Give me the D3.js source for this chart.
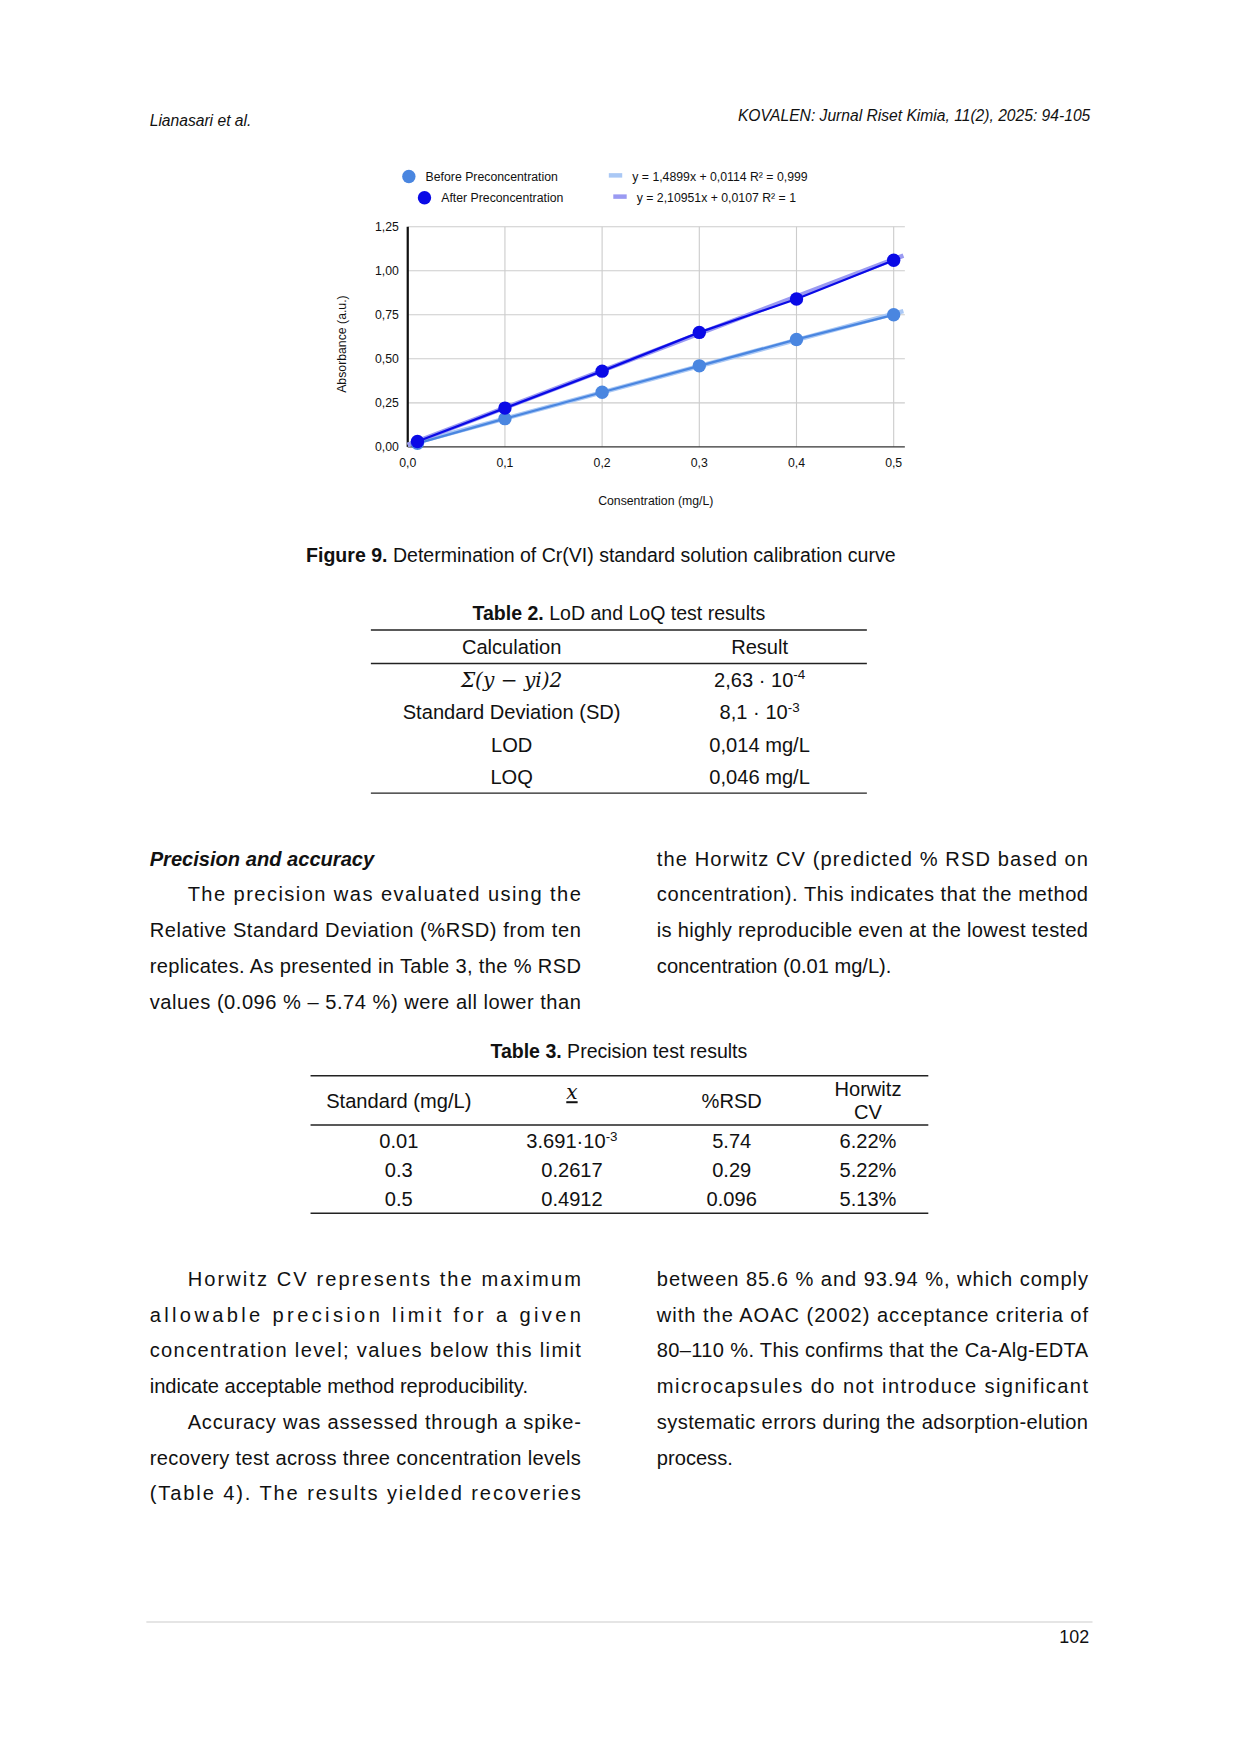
<!DOCTYPE html><html><head><meta charset="utf-8">
<script src="https://cdn.jsdelivr.net/npm/d3@7"></script>
<style>body{margin:0;background:#fff}svg{font-family:"Liberation Sans",Arial,sans-serif}</style></head><body>
<svg id="s" width="1240" height="1754"></svg>
<script>
const concentrations=[0.01,0.1,0.2,0.3,0.4,0.5];
const beforeValues=[0.02,0.16,0.31,0.46,0.61,0.75];
const afterValues=[0.03,0.22,0.43,0.65,0.84,1.06];
const fitBefore={m:1.4899,b:0.0114}, fitAfter={m:2.10951,b:0.0107};
const xTicks=[0,0.1,0.2,0.3,0.4,0.5], yTicks=[0,0.25,0.5,0.75,1.0,1.25];
const svg=d3.select("#s").append("g").attr("transform","scale(1.1171)");
const fmt=d=>d3.format(".1f")(d).replace(".",","), fmt2=d=>d3.format(".2f")(d).replace(".",",");
const x=d3.scaleLinear().domain([0,0.5]).range([365,800]);
const y=d3.scaleLinear().domain([0,1.25]).range([400,203]);
const T=(t,X,Y,o={})=>{const e=svg.append("text").attr("x",X).attr("y",Y).text(t).attr("font-size",o.s||18).attr("fill","#111");if(o.a)e.attr("text-anchor",o.a);if(o.w)e.attr("font-weight",o.w);if(o.i)e.attr("font-style","italic");if(o.L)e.attr("textLength",o.L).attr("lengthAdjust","spacing");return e;};
T("Lianasari et al.",134,113,{s:14,i:1});
T("KOVALEN: Jurnal Riset Kimia, 11(2), 2025: 94-105",976,108,{s:14,i:1,a:"end"});
svg.append("g").selectAll("line").data(xTicks.slice(1)).join("line").attr("x1",x).attr("x2",x).attr("y1",203).attr("y2",400).attr("stroke","#ccc");
svg.append("g").selectAll("line").data(yTicks.slice(1)).join("line").attr("x1",365).attr("x2",810).attr("y1",y).attr("y2",y).attr("stroke","#ccc");
svg.append("line").attr("x1",365).attr("x2",810).attr("y1",400).attr("y2",400).attr("stroke","#333");
svg.append("line").attr("x1",365).attr("x2",365).attr("y1",203).attr("y2",400).attr("stroke","#111").attr("stroke-width",2);
yTicks.forEach(t=>T(fmt2(t),357,y(t)+4,{s:11,a:"end"}));
xTicks.forEach(t=>T(fmt(t),x(t),418,{s:11,a:"middle"}));
T("Consentration (mg/L)",587,452,{s:11,a:"middle"});
T("Absorbance (a.u.)",0,0,{s:11,a:"middle"}).attr("transform","translate(310,308) rotate(-90)");
const line=d3.line().x(d=>x(d[0])).y(d=>y(d[1]));
[[fitBefore,"#aac8f5"],[fitAfter,"#9a9af2"]].forEach(([f,c])=>svg.append("path").attr("d",line([0,0.51].map(v=>[v,f.m*v+f.b]))).attr("stroke",c).attr("stroke-width",4).attr("fill","none"));
[[beforeValues,"#4a86e0"],[afterValues,"#0a0ae6"]].forEach(([v,c])=>{const pts=concentrations.map((cc,i)=>[cc,v[i]]);
svg.append("path").attr("d",line(pts)).attr("stroke",c).attr("stroke-width",2).attr("fill","none");
svg.append("g").selectAll("circle").data(pts).join("circle").attr("cx",d=>x(d[0])).attr("cy",d=>y(d[1])).attr("r",6).attr("fill",c);});
svg.append("circle").attr("cx",366).attr("cy",158).attr("r",6).attr("fill","#4a86e0");
svg.append("circle").attr("cx",380).attr("cy",177).attr("r",6).attr("fill","#0a0ae6");
T("Before Preconcentration",381,162,{s:11});T("After Preconcentration",395,181,{s:11});
svg.append("rect").attr("x",545).attr("y",155).attr("width",12).attr("height",4).attr("fill","#aac8f5");
svg.append("rect").attr("x",549).attr("y",174).attr("width",12).attr("height",4).attr("fill","#9a9af2");
T("y = 1,4899x + 0,0114 R² = 0,999",566,162,{s:11});T("y = 2,10951x + 0,0107 R² = 1",570,181,{s:11});
const cap=T("",274,503,{s:17.5});cap.append("tspan").attr("font-weight","bold").text("Figure 9.");cap.append("tspan").text(" Determination of Cr(VI) standard solution calibration curve");
const t2=T("",554,555,{s:17.5,a:"middle"});t2.append("tspan").attr("font-weight","bold").text("Table 2.");t2.append("tspan").text(" LoD and LoQ test results");
[[332,564,776],[332,594,776],[332,710,776]].forEach(([a,b,c])=>svg.append("line").attr("x1",a).attr("x2",c).attr("y1",b).attr("y2",b).attr("stroke","#222").attr("stroke-width",1.3));
T("Calculation",458,585,{a:"middle"});T("Result",680,585,{a:"middle"});
T("Σ(y − yi)2",458,615,{a:"middle",i:1}).attr("font-family","DejaVu Serif");
const sup=(X,Y,base,e)=>{const t=T("",X,Y,{a:"middle"});t.append("tspan").text(base);t.append("tspan").attr("font-size",12).attr("dy",-7).text(e);};
sup(680,615,"2,63 · 10","-4");T("Standard Deviation (SD)",458,644,{a:"middle"});sup(680,644,"8,1 · 10","-3");
T("LOD",458,673,{a:"middle"});T("0,014 mg/L",680,673,{a:"middle"});T("LOQ",458,702,{a:"middle"});T("0,046 mg/L",680,702,{a:"middle"});
T("Precision and accuracy",134,775,{w:"bold",i:1});
const L=(s,X,Y,w)=>T(s,X,Y,w?{L:w}:{});
[["The  precision  was  evaluated  using  the",168,807,352],["Relative Standard Deviation (%RSD) from ten",134,839,386],["replicates. As presented in Table 3, the % RSD",134,871,386],["values (0.096 % – 5.74 %) were all lower than",134,903,386]].forEach(a=>L(...a));
[["the Horwitz CV (predicted % RSD based on",588,775,386],["concentration). This indicates that the method",588,807,386],["is highly reproducible even at the lowest tested",588,839,386],["concentration (0.01 mg/L).",588,871]].forEach(a=>L(...a));
const t3=T("",554,947,{s:17.5,a:"middle"});t3.append("tspan").attr("font-weight","bold").text("Table 3.");t3.append("tspan").text(" Precision test results");
[[963],[1007],[1086]].forEach(([b])=>svg.append("line").attr("x1",278).attr("x2",831).attr("y1",b).attr("y2",b).attr("stroke","#222").attr("stroke-width",1.3));
T("Standard (mg/L)",357,992,{a:"middle"});T("x",512,984,{a:"middle",i:1}).attr("font-family","DejaVu Serif").attr("text-decoration","underline");
T("%RSD",655,992,{a:"middle"});T("Horwitz",777,981,{a:"middle"});T("CV",777,1002,{a:"middle"});
const std=["0.01","0.3","0.5"],mean=["3.691·10","0.2617","0.4912"],rsd=["5.74","0.29","0.096"],hcv=["6.22%","5.22%","5.13%"];
std.forEach((s,i)=>{const Y=1028+i*26;T(s,357,Y,{a:"middle"});if(i==0)sup(512,Y,mean[0],"-3");else T(mean[i],512,Y,{a:"middle"});T(rsd[i],655,Y,{a:"middle"});T(hcv[i],777,Y,{a:"middle"});});
[["Horwitz   CV   represents   the   maximum",168,1151,352],["allowable    precision    limit    for    a    given",134,1183,386],["concentration  level;  values  below  this  limit",134,1215,386],["indicate acceptable method reproducibility.",134,1247],["Accuracy was assessed through a spike-",168,1279,352],["recovery test across three concentration levels",134,1311,386],["(Table   4).   The   results   yielded   recoveries",134,1343,386]].forEach(a=>L(...a));
[["between 85.6 % and 93.94 %, which comply",588,1151,386],["with  the  AOAC  (2002)  acceptance  criteria  of",588,1183,386],["80–110 %. This confirms that the Ca-Alg-EDTA",588,1215,386],["microcapsules   do   not   introduce   significant",588,1247,386],["systematic errors during the adsorption-elution",588,1279,386],["process.",588,1311]].forEach(a=>L(...a));
svg.append("line").attr("x1",131).attr("x2",978).attr("y1",1452).attr("y2",1452).attr("stroke","#ddd").attr("stroke-width",1.5);
T("102",975,1471,{s:16,a:"end"});
</script></body></html>
